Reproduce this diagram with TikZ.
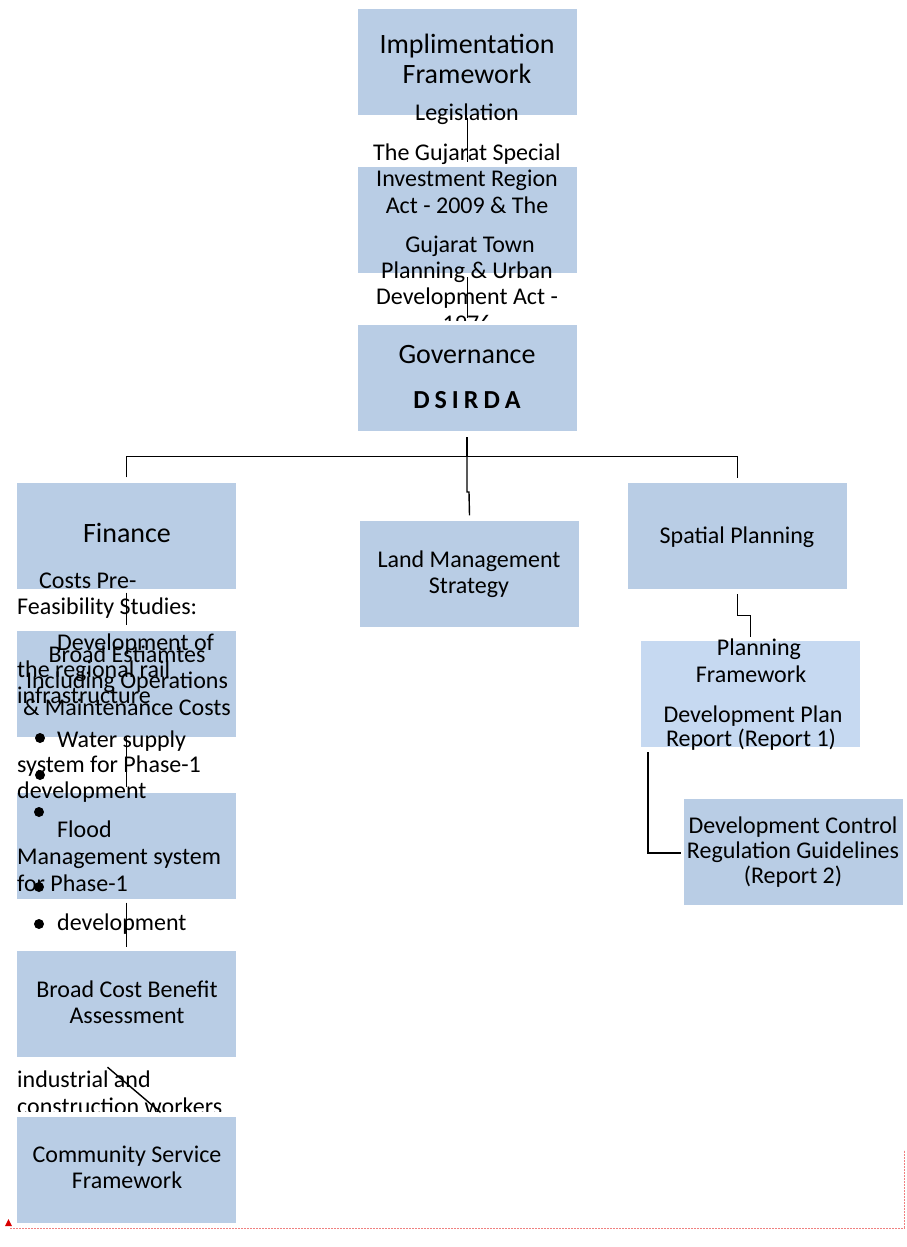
\documentclass[tikz,border=0pt]{standalone}
\usepackage{fontspec}
\setmainfont{Carlito}
\usetikzlibrary{calc}
\definecolor{boxblue}{HTML}{B9CDE5}
\definecolor{boxlight}{HTML}{C6D9F1}
\definecolor{framered}{HTML}{F08080}
\begin{document}
\begin{tikzpicture}[x=1pt,y=-1pt,
  box/.style={fill=boxblue, draw=none, inner sep=0pt, minimum width=219pt, minimum height=106pt},
  txt/.style={inner sep=0pt, anchor=base, font=\fontsize{24}{26}\selectfont},
  txtl/.style={txt, anchor=base west},
  big/.style={inner sep=0pt, anchor=base, font=\fontsize{28}{30}\selectfont},
  link/.style={draw=black, line width=1.4pt},
  dot/.style={circle, fill=black, inner sep=0pt, minimum size=10pt}]
\useasboundingbox (0,0) rectangle (906,1247);
% boxes
\node[box] (impl) at (467.5,62) {};
\node[box] (legis) at (467.5,220) {};
\node[box] (gov) at (467.5,378) {};
\node[box] (fin) at (126.5,535.5) {};
\node[box] (est) at (126.5,683.5) {};
\node[box] (flood) at (126.5,845.5) {};
\node[box] (cba) at (126.5,1004) {};
\node[box] (csf) at (126.5,1169.5) {};
\node[box] (land) at (469.5,573.5) {};
\node[box] (spat) at (737.5,536) {};
\node[box, fill=boxlight] (pfw) at (750.5,694) {};
\node[box] (dcr) at (793.5,852) {};
% texts
\node[big] (timpl1) at (467,53) {Implimentation};
\node[big] (timpl2) at (467,83) {Framework};
\node[txt] (tleg) at (467,120) {Legislation};
\node[txt] (tl1) at (467,160) {The Gujarat Special};
\node[txt] (tl2) at (467,186) {Investment Region};
\node[txt] (tl3) at (467,213) {Act - 2009 \& The};
\node[txt] (tl4) at (470,252) {Gujarat Town};
\node[txt] (tl5) at (467,278) {Planning \& Urban};
\node[txt] (tl6) at (467,304) {Development Act -};
\begin{scope}
  \clip (300,200) rectangle (640,320);
  \node[txt] (tl7) at (467,331) {1976};
\end{scope}
\node[big] (tgov) at (467,363) {Governance};
\node[inner sep=0pt, anchor=base, font=\fontsize{26}{30}\selectfont\bfseries] (tds) at (467,408) {D\kern5pt S\kern5pt I\kern5pt R\kern5pt D\kern5pt A};
\node[big] (tfin) at (127,542) {Finance};
\node[txtl] (tc1) at (39,588) {Costs Pre-};
\node[txtl] (tc2) at (17,614) {Feasibility Studies:};
\node[txt] (te1) at (127,662) {Broad Estiamtes};
\node[txt] (te2) at (127,688) {Including Operations};
\node[txt] (te3) at (127,715) {\& Maintenance Costs};
\node[txtl] (td1) at (57,650) {Development of};
\node[txtl] (td2) at (17,677) {the regional rail};
\node[txtl] (td3) at (17,703) {infrastructure};
\node[txtl] (tw1) at (57,747) {Water supply};
\node[txtl] (tw2) at (17,772) {system for Phase-1};
\node[txtl] (tw3) at (17,798) {development};
\node[txtl] (tf1) at (57,837) {Flood};
\node[txtl] (tf2) at (17,864) {Management system};
\node[txtl] (tf3) at (17,891) {for Phase-1};
\node[txtl] (tf4) at (57,930) {development};
\node[txt] (tb1) at (127,997) {Broad Cost Benefit};
\node[txt] (tb2) at (127,1023) {Assessment};
\node[txtl] (ti1) at (17,1087) {industrial and};
\begin{scope}
  \clip (0,1060) rectangle (300,1111);
  \node[txtl] (ti2) at (17,1114) {construction workers};
\end{scope}
\node[txt] (tcs1) at (127,1162) {Community Service};
\node[txt] (tcs2) at (127,1188) {Framework};
\node[txt] (tland1) at (469,567) {Land Management};
\node[txt] (tland2) at (469,593) {Strategy};
\node[txt] (tsp) at (737,543) {Spatial Planning};
\node[txt] (tp1) at (759,655) {Planning};
\node[txt] (tp2) at (751,682) {Framework};
\node[txt] (tp3) at (753,722) {Development Plan};
\node[txt] (tp4) at (751,746) {Report (Report 1)};
\node[txt] (tr1) at (793,833) {Development Control};
\node[txt] (tr2) at (793,858) {Regulation Guidelines};
\node[txt] (tr3) at (793,883) {(Report 2)};
% bullets
\node[dot] (b1) at (40,738) {};
\node[dot] (b2) at (40,775) {};
\node[dot] (b3) at (39,812) {};
\node[dot] (b4) at (39,887) {};
\node[dot] (b5) at (39,924) {};
% connectors
\draw[link] ($(impl.south)+(0,3)$) -- ($(legis.north)+(0,-5)$);
\draw[link] ($(legis.south)+(0,4)$) -- ($(gov.north)+(0,-7)$);
\coordinate (bus) at (467,457);
\draw[link] ($(gov.south)+(-0.5,6)$) -- (bus);
\draw[link] ($(fin.north)+(0,-5)$) -- ++(0,-21) -| ($(spat.north)+(0,-5)$);
\draw[link] (bus) -- ++(0,35) -- ++(2,0) -- ($(land.north)+(0,-5)$);
\draw[link] ($(fin.south)+(0,4)$) -- ($(est.north)+(0,-5)$);
\draw[link] (est.south) -- ($(flood.north)+(0,-5)$);
\draw[link] ($(flood.south)+(0,4)$) -- ($(cba.north)+(0,-4)$);
\draw[link] ($(cba.south)+(-19,10)$) -- ($(csf.north)+(34,-4)$);
\draw[link] ($(spat.south)+(0,5)$) -- ++(0,21) -| ($(pfw.north)+(0,-4)$);
\draw[link] ($(pfw.south west)+(7,5)$) |- ($(dcr.west)+(-3,1)$);
% red frame
\coordinate (fr1) at (10,1228);
\coordinate (fr2) at (904,1228);
\coordinate (fr3) at (904,1150);
\draw[framered, line width=0.8pt, dash pattern=on 2pt off 1pt] (fr1) -- (fr2) -- (fr3);
\fill[red!85!black] (5,1226) -- (12,1226) -- (8.5,1219) -- cycle;
\end{tikzpicture}
\end{document}
